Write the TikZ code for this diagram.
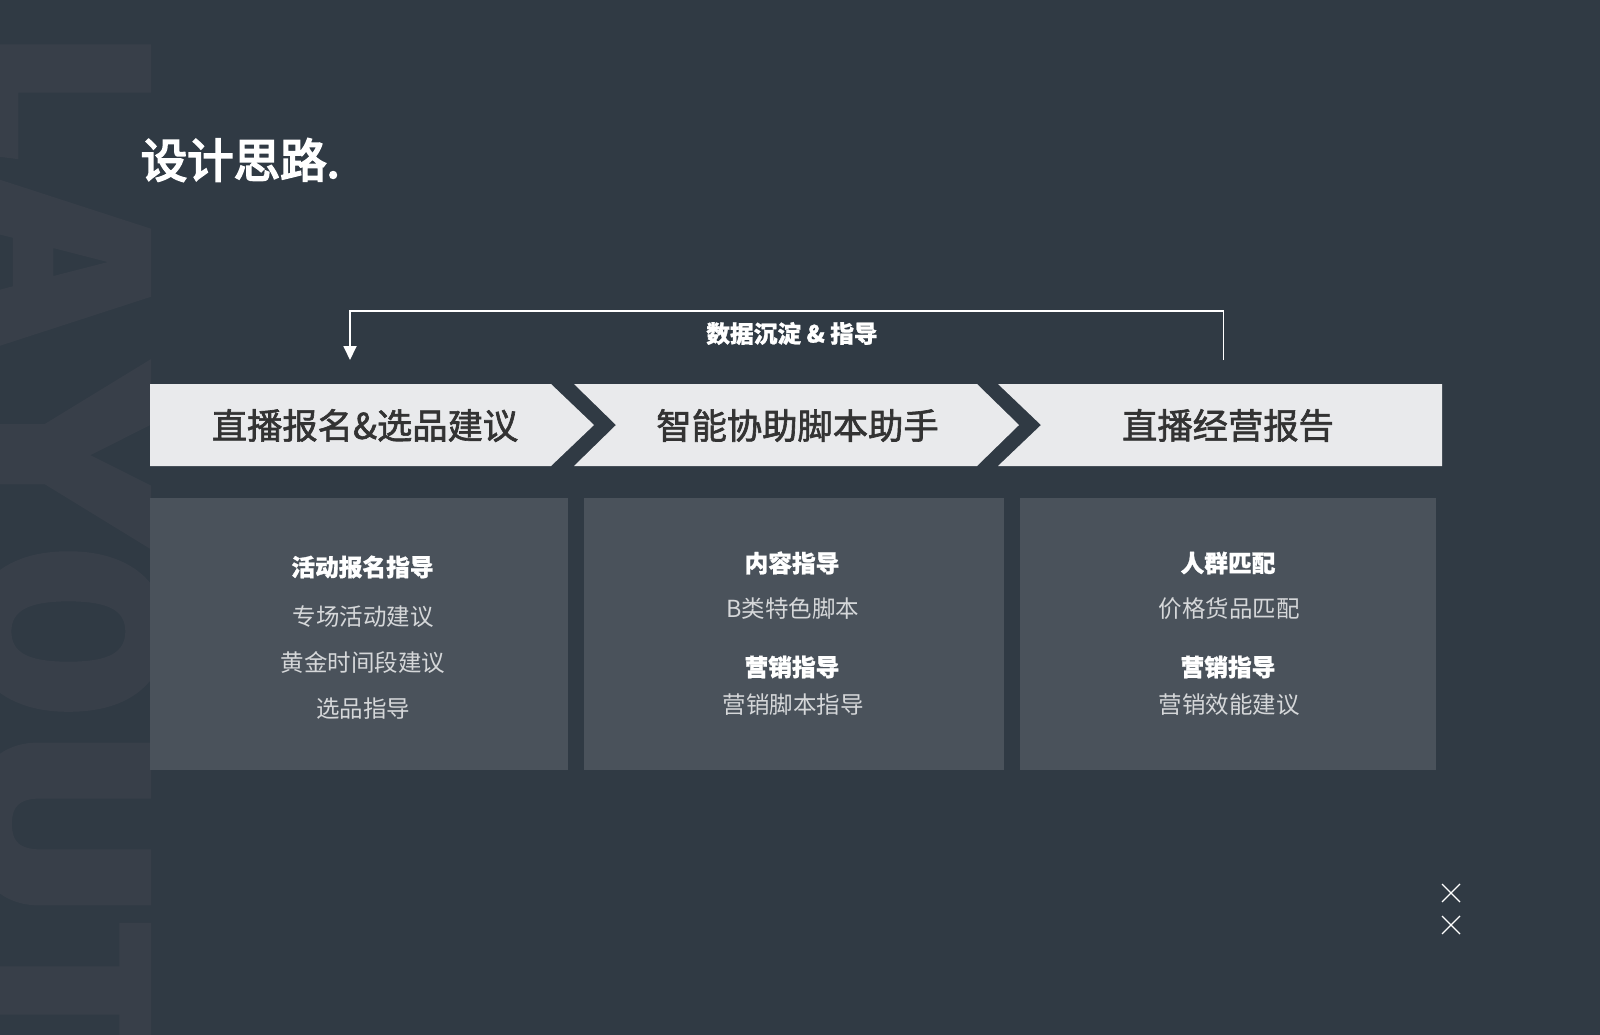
\documentclass[tikz,border=0pt]{standalone}
\usepackage{graphicx}
\usepackage{fontspec}
\setmainfont{Noto Sans CJK SC}
\newfontfamily\headfont[BoldFeatures={FakeBold=1}]{Noto Sans CJK SC}
\newfontfamily\stepfont[UprightFeatures={FakeBold=1.8}]{Noto Sans CJK SC}
\newfontfamily\titlefont[UprightFeatures={FakeBold=4}]{Noto Sans CJK SC}
\newfontfamily\markfont[BoldFeatures={FakeBold=4,FakeStretch=1.195}]{Fira Sans}
\usetikzlibrary{arrows.meta,positioning}
\definecolor{pagebg}{HTML}{303A44}
\definecolor{markgray}{HTML}{383F49}
\definecolor{boxgray}{HTML}{4A525B}
\definecolor{stepgray}{HTML}{E9EAEC}
\definecolor{steptext}{HTML}{333333}
\definecolor{subtext}{HTML}{D5D7D9}
\newcommand{\markletter}[3]{\rlap{\hspace{#1pt}\scalebox{#2}[1]{#3}}}
\tikzset{
  chevron/.style={fill=stepgray},
  infobox/.style={fill=boxgray},
  steplabel/.style={text=steptext,font=\stepfont\fontsize{35.3}{36}\selectfont},
  headlabel/.style={text=white,font=\headfont\bfseries\fontsize{23.7}{24}\selectfont},
  sublabel/.style={text=subtext,font=\fontsize{23.5}{24}\selectfont},
  fbline/.style={draw=white,line width=1.8pt},
}
\begin{document}
\begin{tikzpicture}[x=1pt,y=-1pt]
  \useasboundingbox (0,0) rectangle (1600,1034);
  \fill[pagebg] (0,-2) rectangle (1602,1036);
  % watermark
  \begin{scope}
    \clip (0,-2) rectangle (151,1040);
    \node[anchor=base west,rotate=-90,inner sep=0pt,text=markgray,font=\markfont\bfseries\fontsize{255}{255}\selectfont] (watermark) at (-20,0)
      {\markletter{32}{0.8}{L}\markletter{181}{0.9}{A}\markletter{363}{1}{Y}\markletter{546.6}{0.8}{O}\markletter{731}{0.93}{U}\markletter{924}{0.8}{T}};
  \end{scope}
  \node[anchor=west,inner sep=0pt,text=white,font=\titlefont\fontsize{46.5}{47}\selectfont] (title) at (140.5,160) {设计思路.};
  % steps
  \fill[chevron] (150,384)--(551,384)--(594,425)--(551,466)--(150,466)--cycle;
  \fill[chevron] (574,384)--(977,384)--(1019,425)--(977,466)--(574,466)--(616,425)--cycle;
  \fill[chevron] (998,384)--(1442,384)--(1442,466)--(998,466)--(1041,425)--cycle;
  \node[steplabel] (stepa) at (365,425.5) {直播报名\&选品建议};
  \node[steplabel] (stepb) at (797.5,425.5) {智能协助脚本助手};
  \node[steplabel] (stepc) at (1228,425.5) {直播经营报告};
  % feedback
  \coordinate (fbfrom) at (1223.5,360);
  \coordinate (fbto) at (350,360);
  \draw[fbline,-{Triangle[length=14pt,width=13pt]}] (fbfrom)--(1223.5,311)--(350,311)--(fbto);
  \node[headlabel] (fbtext) at (792,333.5) {数据沉淀 \& 指导};
  % detail boxes
  \fill[infobox] (150,498) rectangle (568,770);
  \fill[infobox] (584,498) rectangle (1004,770);
  \fill[infobox] (1020,498) rectangle (1436,770);
  \node[headlabel] (a1) at (362.5,567) {活动报名指导};
  \node[sublabel] (a2) at (363,616.5) {专场活动建议};
  \node[sublabel] (a3) at (363,662.5) {黄金时间段建议};
  \node[sublabel] (a4) at (363,708.5) {选品指导};
  \node[headlabel] (b1) at (792,563) {内容指导};
  \node[sublabel] (b2) at (793,608.5) {B类特色脚本};
  \node[headlabel] (b3) at (792,667) {营销指导};
  \node[sublabel] (b4) at (793,704.5) {营销脚本指导};
  \node[headlabel] (c1) at (1228,563) {人群匹配};
  \node[sublabel] (c2) at (1229,608.5) {价格货品匹配};
  \node[headlabel] (c3) at (1228,667) {营销指导};
  \node[sublabel] (c4) at (1229,704.5) {营销效能建议};
  % close marks
  \foreach \y in {884,916}{
    \draw[white,line width=1.2pt] (1442,\y)--(1460,\y+18);
    \draw[white,line width=1.2pt] (1460,\y)--(1442,\y+18);
  }
\end{tikzpicture}
\end{document}
